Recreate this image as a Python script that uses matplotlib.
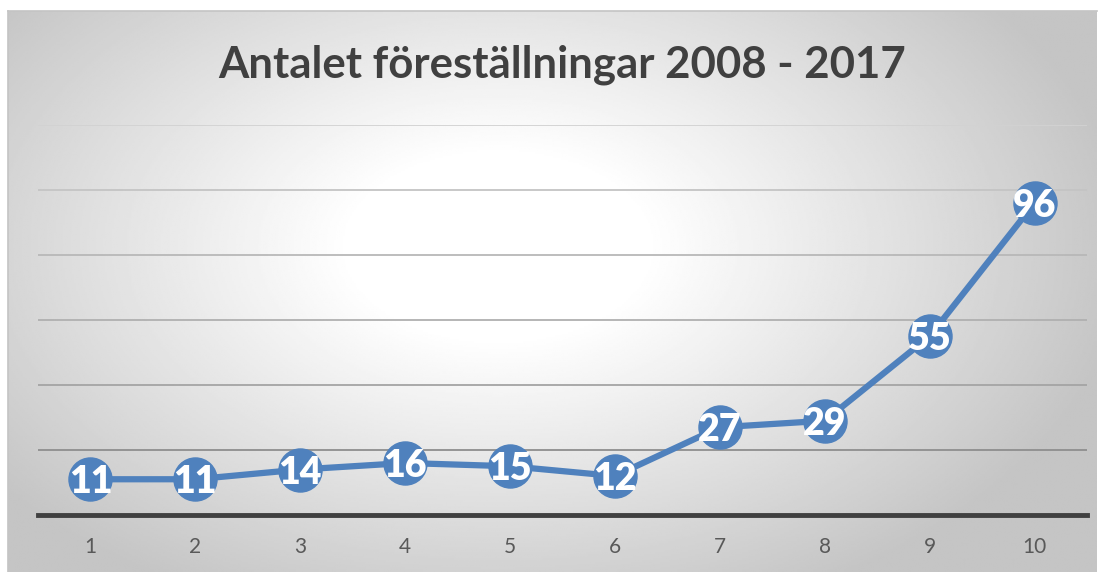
import numpy as np
import matplotlib.pyplot as plt

categories = ['1', '2', '3', '4', '5', '6', '7', '8', '9', '10']
values = [11, 11, 14, 16, 15, 12, 27, 29, 55, 96]
title = 'Antalet föreställningar 2008 - 2017'

W, H = 1103, 572
fig = plt.figure(figsize=(W / 100, H / 100), dpi=100, facecolor='white')

# chart box with radial gradient background
bg = fig.add_axes([8 / W, 0, (1097 - 8) / W, (H - 11) / H])
yy, xx = np.mgrid[0:1:300j, 0:1:600j]
d = np.sqrt(((xx - 0.45) / 0.62) ** 2 + ((yy - 0.42) / 0.75) ** 2)
shade = 1.0 - 0.24 * np.clip(d - 0.22, 0, None) / 0.75
shade = np.clip(shade, 0.77, 1.0)
bg.imshow(shade, cmap='gray', vmin=0, vmax=1, aspect='auto', extent=[0, 1, 0, 1], origin='upper')
bg.set_xticks([])
bg.set_yticks([])
for s in ['bottom', 'right']:
    bg.spines[s].set_visible(False)
bg.spines['top'].set_color('#c4c4c4')
bg.spines['left'].set_color('#c4c4c4')
bg.spines['top'].set_linewidth(1.2)
bg.spines['left'].set_linewidth(1.2)

ax = fig.add_axes([38 / W, 1 - 515 / H, (1087 - 38) / W, (515 - 125) / H])
ax.set_facecolor('none')
x = np.arange(1, len(values) + 1)
ax.set_xlim(0.5, len(values) + 0.5)
ax.set_ylim(0, 120)
ax.set_yticks(range(20, 121, 20))
ax.grid(axis='y', linewidth=1.3)
grid_cols = ['#8e8e8e', '#a4a4a4', '#b0b0b0', '#b8b8b8', '#c4c4c4', '#d2d2d2']
for gl, c in zip(ax.get_ygridlines(), grid_cols):
    gl.set_color(c)
ax.tick_params(axis='y', left=False, labelleft=False)
ax.set_xticks(x)
ax.set_xticklabels(categories, fontsize=15, color='#595959', family='Lato')
ax.tick_params(axis='x', length=0, pad=16)
for s in ['top', 'right', 'left']:
    ax.spines[s].set_visible(False)
ax.spines['bottom'].set_color('#404040')
ax.spines['bottom'].set_linewidth(3.5)
ax.spines['bottom'].set_zorder(1)

ax.plot(x, values, color='#4f81bd', linewidth=4.5, marker='o', markersize=31,
        markerfacecolor='#4f81bd', markeredgecolor='#4f81bd', clip_on=False, zorder=3)
for xi, v in zip(x, values):
    ax.text(xi, v, str(v), ha='center', va='center_baseline', color='white',
            fontsize=27, fontweight='heavy', family='Lato', zorder=4)

fig.text(562 / W, 1 - 65 / H, title, ha='center', va='center', fontsize=31.5,
         fontweight='bold', color='#404040', family='Lato')

fig.savefig('out.png', dpi=100)
